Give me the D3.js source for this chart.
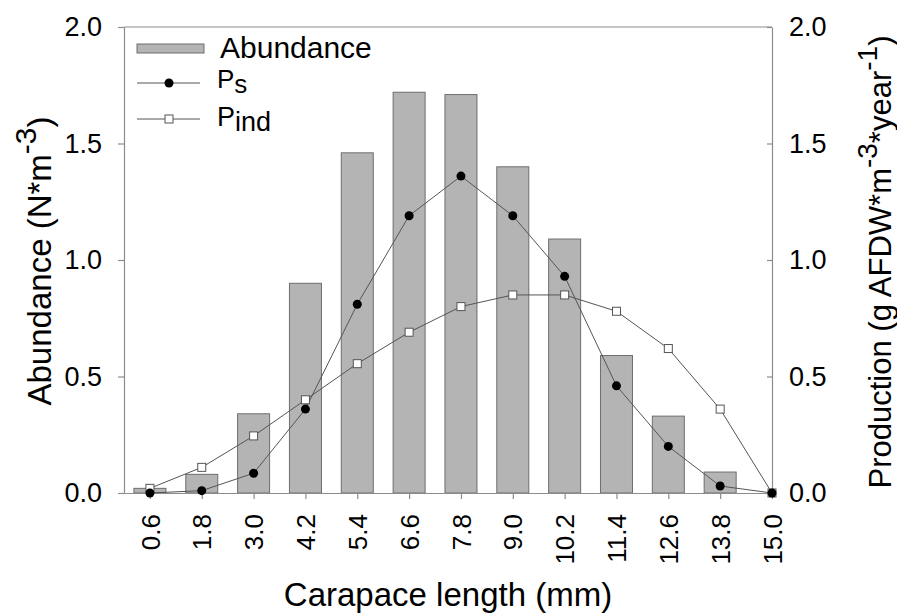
<!DOCTYPE html>
<html>
<head>
<meta charset="utf-8">
<script src="https://cdn.jsdelivr.net/npm/d3@7"></script>
<style>
  body { margin: 0; background: #fff; }
  text { font-family: "Liberation Sans", Arial, sans-serif; fill: #000; }
</style>
</head>
<body>
<svg id="chart" width="897" height="616"></svg>
<script>
// carapace length classes (mm)
var lengths = [0.6, 1.8, 3.0, 4.2, 5.4, 6.6, 7.8, 9.0, 10.2, 11.4, 12.6, 13.8, 15.0];
// abundance (N*m-3), no bar at 15.0
var abundance = [0.02, 0.08, 0.34, 0.90, 1.46, 1.72, 1.71, 1.40, 1.09, 0.59, 0.33, 0.09, 0];
// production Ps and Pind (g AFDW*m-3*year-1)
var ps   = [0.0, 0.01, 0.085, 0.36, 0.81, 1.19, 1.36, 1.19, 0.93, 0.46, 0.20, 0.03, 0.0];
var pind = [0.02, 0.11, 0.245, 0.40, 0.555, 0.69, 0.80, 0.85, 0.85, 0.78, 0.62, 0.36, 0.0];
var yTicks = [0, 0.5, 1.0, 1.5, 2.0];

var svg = d3.select("#chart");
var pLeft = 124, pRight = 772, pTop = 27, pBottom = 493;

var x = d3.scaleLinear().domain([0, 15]).range([pLeft, pRight]);
var yL = d3.scaleLinear().domain([0, 2]).range([pBottom, pTop]);
var yR = d3.scaleLinear().domain([0, 2]).range([pBottom, pTop]);

var axisCol = "#8c8c8c", barFill = "#b4b4b4", barStroke = "#6e6e6e", lineCol = "#555";
var barW = 32;

// bars
svg.append("g").selectAll("rect")
  .data(lengths.map((l, i) => ({l: l, v: abundance[i]})).filter(d => d.v > 0))
  .enter().append("rect")
    .attr("x", d => x(d.l) - barW / 2)
    .attr("y", d => yL(d.v))
    .attr("width", barW)
    .attr("height", d => yL(0) - yL(d.v))
    .attr("fill", barFill)
    .attr("stroke", barStroke)
    .attr("stroke-width", 1);

// frame top line
svg.append("line")
    .attr("x1", pLeft).attr("x2", pRight).attr("y1", pTop).attr("y2", pTop)
    .attr("stroke", axisCol).attr("stroke-width", 1.2);

// axes
var gx = svg.append("g").attr("transform", `translate(0,${pBottom})`)
  .call(d3.axisBottom(x).tickValues(lengths).tickSize(6).tickSizeOuter(0).tickFormat(d3.format(".1f")));
gx.selectAll("text")
    .attr("transform", "rotate(-90)")
    .attr("x", -21).attr("y", 0).attr("dy", "0.35em")
    .style("text-anchor", "end")
    .style("font-size", "26px");

var gl = svg.append("g").attr("transform", `translate(${pLeft},0)`)
  .call(d3.axisLeft(yL).tickValues(yTicks).tickSize(6).tickSizeOuter(0).tickPadding(16).tickFormat(d3.format(".1f")));
gl.selectAll("text").style("font-size", "27px");

var gr = svg.append("g").attr("transform", `translate(${pRight},0)`)
  .call(d3.axisRight(yR).tickValues(yTicks).tickSize(-5).tickSizeOuter(0).tickPadding(17).tickFormat(d3.format(".1f")));
gr.selectAll("text").style("font-size", "27px");

[gx, gl, gr].forEach(g => {
  g.attr("font-family", null).attr("font-size", null);
  g.selectAll("path, line").attr("stroke", axisCol).attr("stroke-width", 1.2);
});

// lines
var line = d3.line().x(d => x(d[0])).y(d => yR(d[1]));
var psPts = lengths.map((l, i) => [l, ps[i]]);
var pindPts = lengths.map((l, i) => [l, pind[i]]);

svg.append("path").datum(pindPts).attr("d", line)
    .attr("fill", "none").attr("stroke", lineCol).attr("stroke-width", 1);
svg.append("path").datum(psPts).attr("d", line)
    .attr("fill", "none").attr("stroke", lineCol).attr("stroke-width", 1);

svg.append("g").selectAll("rect").data(pindPts).enter().append("rect")
    .attr("x", d => x(d[0]) - 4).attr("y", d => yR(d[1]) - 4)
    .attr("width", 8).attr("height", 8)
    .attr("fill", "#fff").attr("stroke", "#555").attr("stroke-width", 1);
svg.append("g").selectAll("circle").data(psPts).enter().append("circle")
    .attr("cx", d => x(d[0])).attr("cy", d => yR(d[1])).attr("r", 4.5)
    .attr("fill", "#000");

// axis titles
svg.append("text")
    .attr("text-anchor", "middle")
    .attr("x", (pLeft + pRight) / 2).attr("y", 606)
    .style("font-size", "33px")
    .text("Carapace length (mm)");

var tl = svg.append("text")
    .attr("text-anchor", "middle")
    .attr("transform", "translate(51,261) rotate(-90)")
    .style("font-size", "33px");
tl.append("tspan").text("Abundance (N*m");
tl.append("tspan").attr("dy", -15).style("font-size", "30px").text("-3");
tl.append("tspan").attr("dy", 15).text(")");

var tr = svg.append("text")
    .attr("text-anchor", "middle")
    .attr("transform", "translate(891,262) rotate(-90)")
    .style("font-size", "31px");
tr.append("tspan").text("Production (g AFDW*m");
tr.append("tspan").attr("dy", -14).style("font-size", "28px").text("-3");
tr.append("tspan").attr("dy", 14).text("*year");
tr.append("tspan").attr("dy", -14).style("font-size", "28px").text("-1");
tr.append("tspan").attr("dy", 14).text(")");

// legend
var lg = svg.append("g");
lg.append("rect").attr("x", 137).attr("y", 44).attr("width", 67).attr("height", 9)
    .attr("fill", barFill).attr("stroke", barStroke);
lg.append("text").attr("x", 220).attr("y", 58).style("font-size", "30px").text("Abundance");

lg.append("line").attr("x1", 137).attr("x2", 200).attr("y1", 83).attr("y2", 83)
    .attr("stroke", lineCol);
lg.append("circle").attr("cx", 169).attr("cy", 83).attr("r", 4.5).attr("fill", "#000");
var t1 = lg.append("text").attr("x", 217).attr("y", 88).style("font-size", "26px");
t1.append("tspan").text("P");
t1.append("tspan").attr("dy", 5).text("s");

lg.append("line").attr("x1", 137).attr("x2", 200).attr("y1", 119).attr("y2", 119)
    .attr("stroke", lineCol);
lg.append("rect").attr("x", 165).attr("y", 115).attr("width", 8).attr("height", 8)
    .attr("fill", "#fff").attr("stroke", "#555");
var t2 = lg.append("text").attr("x", 217).attr("y", 126).style("font-size", "27px");
t2.append("tspan").text("P");
t2.append("tspan").attr("dy", 5).text("ind");
</script>
</body>
</html>
